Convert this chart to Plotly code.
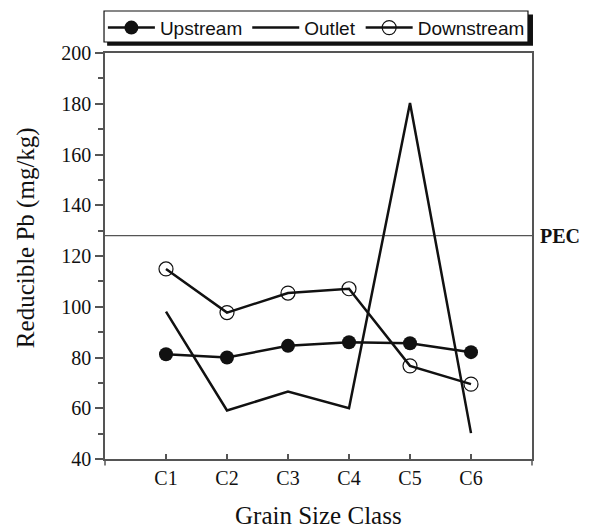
import plotly.graph_objects as go

# Grain size classes and reducible Pb concentrations (mg/kg)
classes = ["C1", "C2", "C3", "C4", "C5", "C6"]
class_pos = [1, 2, 3, 4, 5, 6]
upstream = [81.3, 80.0, 84.6, 86.0, 85.6, 82.1]
outlet = [98.1, 59.1, 66.6, 60.0, 180.3, 50.2]
downstream = [114.9, 97.7, 105.4, 107.1, 76.7, 69.5]
pec_value = 128

serif = "Liberation Serif, Times New Roman, serif"
sans = "Liberation Sans, Arial, sans-serif"
axis_grey = "#555555"
ink = "#111111"

fig = go.Figure()

fig.add_trace(go.Scatter(
    x=class_pos, y=upstream, name="Upstream", mode="lines+markers",
    line=dict(color=ink, width=2.5),
    marker=dict(symbol="circle", size=14, color=ink),
))
fig.add_trace(go.Scatter(
    x=class_pos, y=outlet, name="Outlet", mode="lines",
    line=dict(color=ink, width=2.5),
))
fig.add_trace(go.Scatter(
    x=class_pos, y=downstream, name="Downstream", mode="lines+markers",
    line=dict(color=ink, width=2.5),
    marker=dict(symbol="circle-open", size=14, color=ink,
                line=dict(width=1.2, color=ink)),
))

# PEC threshold line
fig.add_shape(type="line", xref="paper", yref="y", x0=0, x1=1,
              y0=pec_value, y1=pec_value,
              line=dict(color=axis_grey, width=1.3), layer="below")
fig.add_annotation(text="<b>PEC</b>", xref="paper", yref="y", x=1, y=pec_value,
                   xanchor="left", yanchor="middle", xshift=6, showarrow=False,
                   font=dict(family=serif, size=20, color=ink))

# axis titles
fig.add_annotation(text="Grain Size Class", xref="paper", yref="paper",
                   x=0.5, y=-0.138, xanchor="center", yanchor="middle",
                   showarrow=False, font=dict(family=serif, size=25, color=ink))
fig.add_annotation(text="Reducible Pb (mg/kg)", xref="paper", yref="paper",
                   x=-0.185, y=0.544, xanchor="center", yanchor="middle",
                   textangle=-90, showarrow=False,
                   font=dict(family=serif, size=25, color=ink))

# short outward ticks at the ends of the category axis
for xp in (0, 1):
    fig.add_shape(type="line", xref="paper", yref="paper", x0=xp, x1=xp,
                  y0=0, y1=-0.016, line=dict(color=axis_grey, width=1.5))

# legend frame with drop shadow
fig.add_shape(type="rect", xref="paper", yref="paper",
              x0=0.005, x1=1.0023, y0=1.018, y1=1.095,
              line=dict(width=0), fillcolor=ink, layer="below")
fig.add_shape(type="rect", xref="paper", yref="paper",
              x0=-0.0023, x1=0.9906, y0=1.0271, y1=1.1034,
              line=dict(color=ink, width=1.2), fillcolor="white", layer="below")

fig.update_layout(
    width=590, height=528,
    margin=dict(l=105, r=58, t=53, b=69),
    paper_bgcolor="white", plot_bgcolor="white",
    showlegend=True,
    legend=dict(orientation="h", xref="container", yref="container",
                x=0.1744, y=0.9834, xanchor="left", yanchor="top",
                bgcolor="rgba(0,0,0,0)", borderwidth=0,
                font=dict(family=sans, size=19, color=ink),
                itemwidth=47, tracegroupgap=0),
    xaxis=dict(
        range=[0, 7], tickvals=class_pos, ticktext=classes,
        ticks="inside", ticklen=5, tickwidth=1.5, tickcolor=axis_grey,
        showline=True, linecolor=axis_grey, linewidth=1.5, mirror=True,
        showgrid=False, zeroline=False, automargin=False,
        tickfont=dict(family=serif, size=20, color=ink),
    ),
    yaxis=dict(
        range=[40, 200], tickvals=[40, 60, 80, 100, 120, 140, 160, 180, 200],
        ticks="outside", ticklen=8, tickwidth=1.5, tickcolor=axis_grey,
        minor=dict(tickvals=[50, 70, 90, 110, 130, 150, 170, 190],
                   ticks="outside", ticklen=5, tickwidth=1.5, tickcolor=axis_grey),
        showline=True, linecolor=axis_grey, linewidth=1.5, mirror=True,
        showgrid=False, zeroline=False, automargin=False,
        tickfont=dict(family=serif, size=20, color=ink),
    ),
)

fig.write_html("out.html")
